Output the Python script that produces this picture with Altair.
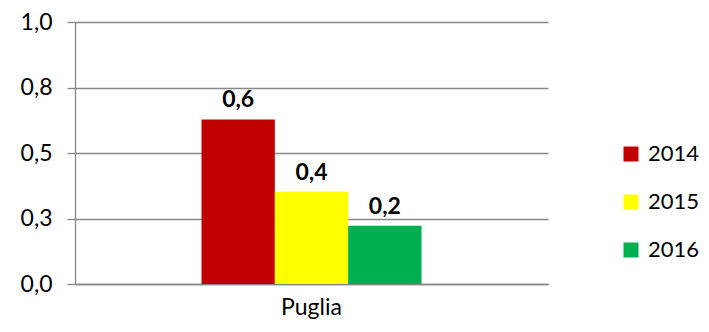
import altair as alt
import pandas as pd

regione = ["Puglia", "Puglia", "Puglia"]
anni = ["2014", "2015", "2016"]
valori = [0.628, 0.352, 0.222]
etichette = ["0,6", "0,4", "0,2"]
colori = ["#C00000", "#FFFF00", "#00B050"]
tick_y = [0, 0.25, 0.5, 0.75, 1.0]

df = pd.DataFrame({"regione": regione, "anno": anni, "valore": valori, "etichetta": etichette})

FONT = "Lato"
GRAY = "#878787"

x = alt.X("regione:N", title=None,
          scale=alt.Scale(paddingOuter=0.575, paddingInner=0),
          axis=alt.Axis(labelAngle=0, ticks=False, domain=True, domainColor=GRAY, domainWidth=1.3,
                        grid=False, labelFontSize=23, labelColor="#000", labelFont=FONT,
                        labelPadding=12))
xo = alt.XOffset("anno:N", scale=alt.Scale(paddingInner=0, paddingOuter=0))
y = alt.Y("valore:Q", title=None, scale=alt.Scale(domain=[0, 1]),
          axis=alt.Axis(values=tick_y, labelExpr="replace(format(datum.value,'.1f'),'.',',')",
                        tickSize=8, tickColor=GRAY, tickWidth=1.3, domainColor=GRAY, domainWidth=1.3,
                        gridColor=GRAY, gridWidth=1.3, labelFontSize=23, labelFont=FONT,
                        labelColor="#000", labelPadding=15))

bars = alt.Chart(df).mark_bar().encode(
    x=x, xOffset=xo, y=y,
    color=alt.Color("anno:N", scale=alt.Scale(domain=anni, range=colori),
                    legend=alt.Legend(title=None, orient="none", legendX=545, legendY=121,
                                      symbolType="square", symbolSize=225, symbolStrokeWidth=0,
                                      labelFontSize=22, labelFont=FONT, labelColor="#000",
                                      labelOffset=6, rowPadding=26)),
)

text = alt.Chart(df).mark_text(baseline="bottom", dy=-7, fontSize=23, fontWeight="bold",
                               font=FONT, color="#000").encode(
    x=x, xOffset=xo, y=y, text="etichetta:N")

chart = alt.layer(bars, text).properties(
    width=473, height=262,
    autosize=alt.AutoSizeParams(type="none"),
    padding={"left": 67, "top": 14, "right": 153, "bottom": 40},
).configure_view(stroke=None)

chart.save("out.html", embed_options={"renderer": "svg", "actions": False})
